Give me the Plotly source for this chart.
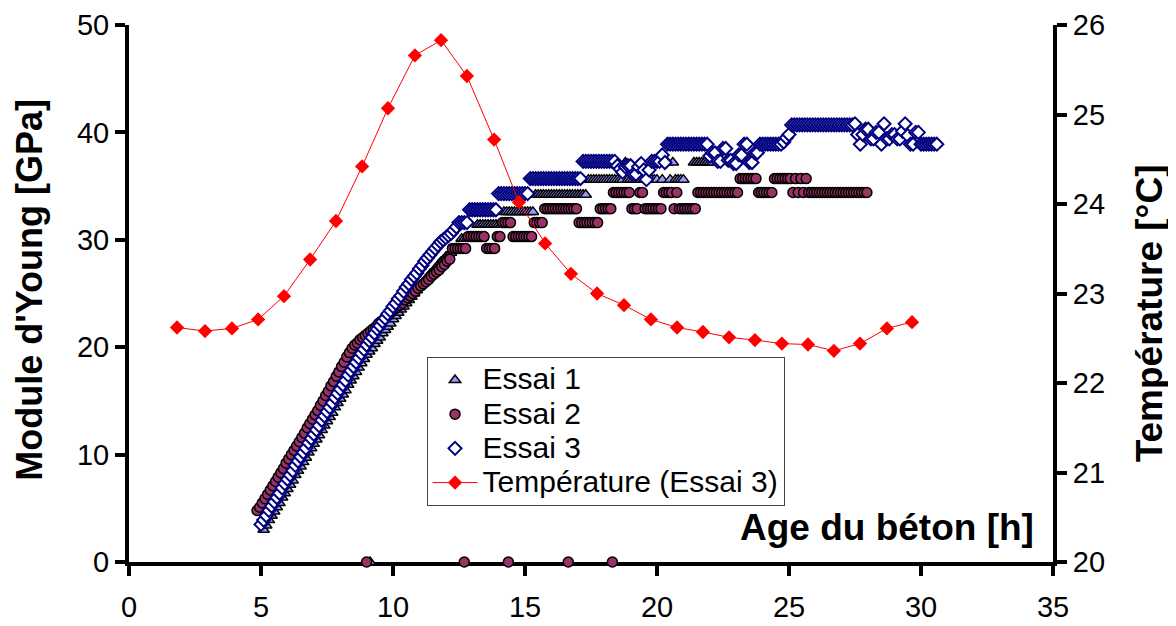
import plotly.graph_objects as go

# ---------------- data ----------------
# Essai 1 (triangles)
ESSAI1_T = [
    5.1, 5.2, 5.3, 5.4, 5.5, 5.6, 5.7, 5.8, 5.9,
    6.0, 6.1, 6.2, 6.3, 6.4, 6.5, 6.6, 6.7, 6.8, 6.9,
    7.0, 7.1, 7.2, 7.3, 7.4, 7.5, 7.6, 7.7, 7.8, 7.9,
    8.0, 8.1, 8.2, 8.3, 8.4, 8.5, 8.6, 8.7, 8.8, 8.9,
    9.0, 9.1, 9.2, 9.3, 9.4, 9.5, 9.6, 9.7, 9.8, 9.9,
    10.0, 10.1, 10.2, 10.3, 10.4, 10.5, 10.6, 10.7, 10.8, 10.9,
    11.0, 11.1, 11.2, 11.3, 11.4, 11.5, 11.6, 11.7, 11.8, 11.9,
    12.0, 12.1, 12.2, 12.3, 12.4, 12.5, 12.6, 12.7, 12.8, 12.9,
    13.0, 13.1, 13.2, 13.3, 13.4, 13.5, 13.6, 13.7, 13.8, 13.9,
    14.0, 14.1, 14.2, 14.3, 14.4, 14.5, 14.6, 14.7, 14.8, 14.9,
    15.0, 15.1, 15.2, 15.3, 15.4, 15.5, 15.6, 15.7, 15.8, 15.9,
    16.0, 16.1, 16.2, 16.3, 16.4, 16.5, 16.6, 16.7, 16.8, 16.9,
    17.0, 17.1, 17.2, 17.3, 17.4, 17.5, 17.6, 17.7, 17.8, 17.9,
    18.0, 18.1, 18.2, 18.3, 18.4, 18.5, 18.6, 18.7, 18.8, 18.9,
    19.0, 19.1, 19.2, 19.3, 19.4, 19.5, 19.6, 19.7, 19.8, 19.9,
    20.0, 20.1, 20.2, 20.3, 20.4, 20.5, 20.6, 20.7, 20.8, 20.9,
    21.0,
    21.4, 21.5, 21.6, 21.7, 21.8, 21.9, 22.0, 22.1,
]
ESSAI1_E = [
    3.0, 3.4, 3.9, 4.3, 4.7, 5.1, 5.5, 6.0, 6.4,
    6.8, 7.2, 7.6, 8.1, 8.5, 8.9, 9.3, 9.7, 10.2, 10.6,
    11.0, 11.4, 11.8, 12.3, 12.7, 13.1, 13.5, 13.9, 14.4, 14.8,
    15.2, 15.6, 16.0, 16.5, 16.9, 17.3, 17.7, 18.1, 18.5, 18.9,
    19.3, 19.6, 19.9, 20.3, 20.6, 20.9, 21.3, 21.6, 21.9, 22.2,
    22.6, 22.9, 23.2, 23.5, 23.8, 24.1, 24.4, 24.7, 25.0, 25.3,
    25.6, 25.9, 26.2, 26.5, 26.8, 27.0, 27.3, 27.6, 27.9, 28.1,
    28.4, 28.6, 28.8, 29.0, 29.2, 29.2, 30.1, 30.1, 30.1, 30.1,
    30.1, 30.1, 31.4, 31.4, 31.4, 31.4, 31.4, 31.4, 31.4, 31.4,
    31.4, 31.4, 32.6, 32.6, 32.6, 32.6, 32.6, 32.6, 32.6, 32.6,
    32.6, 32.6, 32.6, 32.6, 34.2, 34.2, 34.2, 34.2, 34.2, 34.2,
    34.2, 34.2, 34.2, 34.2, 34.2, 34.2, 34.2, 34.2, 34.2, 34.2,
    34.2, 34.2, 34.2, 34.2, 35.6, 35.6, 35.6, 35.6, 35.6, 35.6,
    35.6, 35.6, 35.6, 35.6, 35.6, 35.6, 35.6, 35.6, 37.2, 35.6,
    35.6, 35.6, 35.6, 35.6, 35.6, 35.6, 35.6, 35.6, 35.6, 35.6,
    35.6, 37.2, 35.6, 37.2, 37.2, 35.6, 37.2, 35.6, 35.6, 35.6,
    35.6,
    37.2, 37.2, 37.2, 37.2, 37.2, 37.2, 37.2, 37.2,
]
ESSAI1_ZERO_T = [9.13]
ESSAI1_ZERO_E = [0.0]

# Essai 2 (circles)
ESSAI2_T = [
    4.85, 4.95,
    5.05, 5.15, 5.25, 5.35, 5.45, 5.55, 5.65, 5.75, 5.85, 5.95,
    6.05, 6.15, 6.25, 6.35, 6.45, 6.55, 6.65, 6.75, 6.85, 6.95,
    7.05, 7.15, 7.25, 7.35, 7.45, 7.55, 7.65, 7.75, 7.85, 7.95,
    8.05, 8.15, 8.25, 8.35, 8.45, 8.55, 8.65, 8.75, 8.85, 8.95,
    9.05, 9.15, 9.25, 9.35, 9.45, 9.55, 9.65, 9.75, 9.85, 9.95,
    10.05, 10.15, 10.25, 10.35, 10.45, 10.55, 10.65, 10.75, 10.85, 10.95,
    11.05, 11.15, 11.25, 11.35, 11.45, 11.55, 11.65, 11.75, 11.85, 11.95,
    12.05, 12.15, 12.25, 12.35, 12.45, 12.55, 12.65, 12.75, 12.85, 12.95,
    13.05, 13.15, 13.25, 13.35, 13.45, 13.55, 13.65, 13.75, 13.85, 13.95,
    14.05, 14.15, 14.25, 14.35, 14.45, 14.55, 14.65, 14.75, 14.85, 14.95,
    15.05, 15.15, 15.25, 15.35, 15.45, 15.55, 15.65, 15.75, 15.85, 15.95,
    16.05, 16.15, 16.25, 16.35, 16.45, 16.55, 16.65, 16.75, 16.85, 16.95,
    17.05, 17.15, 17.25, 17.35, 17.45, 17.55, 17.65, 17.75, 17.85, 17.95,
    18.05, 18.15, 18.25, 18.35, 18.45, 18.55, 18.65, 18.75, 18.85, 18.95,
    19.05, 19.15, 19.25, 19.35, 19.45, 19.55, 19.65, 19.75, 19.85, 19.95,
    20.05, 20.15, 20.25, 20.35, 20.45, 20.55, 20.65, 20.75, 20.85, 20.95,
    21.05, 21.15, 21.25, 21.35, 21.45, 21.55, 21.65, 21.75, 21.85, 21.95,
    22.05, 22.15, 22.25, 22.35, 22.45, 22.55, 22.65, 22.75, 22.85, 22.95,
    23.05, 23.15, 23.25, 23.35, 23.45, 23.55, 23.65, 23.75, 23.85, 23.95,
    24.05, 24.15, 24.25, 24.35, 24.45, 24.55, 24.65, 24.75, 24.85, 24.95,
    25.05, 25.15, 25.25, 25.35, 25.45, 25.55, 25.65, 25.75, 25.85, 25.95,
    26.05, 26.15, 26.25, 26.35, 26.45, 26.55, 26.65, 26.75, 26.85, 26.95,
    27.05, 27.15, 27.25, 27.35, 27.45, 27.55, 27.65, 27.75, 27.85, 27.95,
]
ESSAI2_E = [
    4.8, 5.1,
    5.5, 5.9, 6.3, 6.7, 7.1, 7.5, 7.9, 8.3, 8.7, 9.2,
    9.6, 10.0, 10.4, 10.8, 11.2, 11.6, 12.0, 12.5, 12.9, 13.3,
    13.7, 14.1, 14.6, 15.0, 15.5, 15.9, 16.4, 16.8, 17.3, 17.7,
    18.2, 18.6, 19.1, 19.5, 19.9, 20.2, 20.4, 20.7, 20.9, 21.1,
    21.3, 21.5, 21.7, 21.9, 22.2, 22.4, 22.6, 22.8, 23.0, 23.3,
    23.5, 23.7, 23.9, 24.1, 24.4, 24.6, 24.8, 25.0, 25.2, 25.5,
    25.7, 25.9, 26.1, 26.3, 26.6, 26.8, 27.0, 27.2, 27.5, 27.7,
    28.0, 28.2, 29.2, 29.2, 29.2, 29.2, 29.2, 29.2, 30.3, 30.3,
    30.3, 30.3, 30.3, 30.3, 30.3, 29.2, 29.2, 29.2, 29.2, 30.3,
    30.3, 31.6, 31.6, 31.6, 31.6, 30.3, 30.3, 30.3, 30.3, 30.3,
    30.3, 30.3, 30.3, 31.6, 31.6, 31.6, 31.6, 32.9, 32.9, 32.9,
    32.9, 32.9, 32.9, 32.9, 32.9, 32.9, 32.9, 32.9, 32.9, 32.9,
    31.6, 31.6, 31.6, 31.6, 31.6, 31.6, 31.6, 31.6, 32.9, 32.9,
    32.9, 32.9, 32.9, 34.4, 34.4, 34.4, 34.4, 34.4, 34.4, 34.4,
    32.9, 32.9, 32.9, 34.4, 34.4, 32.9, 32.9, 32.9, 32.9, 32.9,
    32.9, 32.9, 34.4, 34.4, 34.4, 34.4, 32.9, 34.4, 32.9, 32.9,
    32.9, 32.9, 32.9, 32.9, 32.9, 34.4, 34.4, 34.4, 34.4, 34.4,
    34.4, 34.4, 34.4, 34.4, 34.4, 34.4, 34.4, 34.4, 34.4, 34.4,
    34.4, 35.7, 35.7, 35.7, 35.7, 35.7, 35.7, 35.7, 34.4, 34.4,
    34.4, 34.4, 34.4, 34.4, 35.7, 35.7, 35.7, 35.7, 35.7, 35.7,
    35.7, 34.4, 35.7, 34.4, 35.7, 34.4, 35.7, 34.4, 34.4, 34.4,
    34.4, 34.4, 34.4, 34.4, 34.4, 34.4, 34.4, 34.4, 34.4, 34.4,
    34.4, 34.4, 34.4, 34.4, 34.4, 34.4, 34.4, 34.4, 34.4, 34.4,
]
ESSAI2_ZERO_T = [9.0, 12.7, 14.37, 16.64, 18.31]
ESSAI2_ZERO_E = [0.0, 0.0, 0.0, 0.0, 0.0]

# Essai 3 (open diamonds)
ESSAI3_T = [
    5.0, 5.1, 5.2, 5.3, 5.4, 5.5, 5.6, 5.7, 5.8, 5.9,
    6.0, 6.1, 6.2, 6.3, 6.4, 6.5, 6.6, 6.7, 6.8, 6.9,
    7.0, 7.1, 7.2, 7.3, 7.4, 7.5, 7.6, 7.7, 7.8, 7.9,
    8.0, 8.1, 8.2, 8.3, 8.4, 8.5, 8.6, 8.7, 8.8, 8.9,
    9.0, 9.1, 9.2, 9.3, 9.4, 9.5, 9.6, 9.7, 9.8, 9.9,
    10.0, 10.1, 10.2, 10.3, 10.4, 10.5, 10.6, 10.7, 10.8, 10.9,
    11.0, 11.1, 11.2, 11.3, 11.4, 11.5, 11.6, 11.7, 11.8, 11.9,
    12.0, 12.1, 12.2, 12.3, 12.4, 12.5, 12.6, 12.7, 12.8, 12.9,
    13.0, 13.1, 13.2, 13.3, 13.4, 13.5, 13.6, 13.7, 13.8, 13.9,
    14.0, 14.1, 14.2, 14.3, 14.4, 14.5, 14.6, 14.7, 14.8, 14.9,
    15.0, 15.1, 15.2, 15.3, 15.4, 15.5, 15.6, 15.7, 15.8, 15.9,
    16.0, 16.1, 16.2, 16.3, 16.4, 16.5, 16.6, 16.7, 16.8, 16.9,
    17.0, 17.1, 17.2, 17.3, 17.4, 17.5, 17.6, 17.7, 17.8, 17.9,
    18.0, 18.1, 18.2, 18.3, 18.4, 18.5, 18.6, 18.7, 18.8, 18.9,
    19.0, 19.1, 19.2, 19.3, 19.4, 19.5, 19.6, 19.7, 19.8, 19.9,
    20.0, 20.1, 20.2, 20.3, 20.4, 20.5, 20.6, 20.7, 20.8, 20.9,
    21.0, 21.1, 21.2, 21.3, 21.4, 21.5, 21.6, 21.7, 21.8, 21.9,
    22.0, 22.1, 22.2, 22.3, 22.4, 22.5, 22.6, 22.7, 22.8, 22.9,
    23.0, 23.1, 23.2, 23.3, 23.4, 23.5, 23.6, 23.7, 23.8, 23.9,
    24.0, 24.1, 24.2, 24.3, 24.4, 24.5, 24.6, 24.7, 24.8, 24.9,
    25.0, 25.1, 25.2, 25.3, 25.4, 25.5, 25.6, 25.7, 25.8, 25.9,
    26.0, 26.1, 26.2, 26.3, 26.4, 26.5, 26.6, 26.7, 26.8, 26.9,
    27.0, 27.1, 27.2, 27.3, 27.4, 27.5, 27.6, 27.7, 27.8, 27.9,
    28.0, 28.1, 28.2, 28.3, 28.4, 28.5, 28.6, 28.7, 28.8, 28.9,
    29.0, 29.1, 29.2, 29.3, 29.4, 29.5, 29.6, 29.7, 29.8, 29.9,
    30.0, 30.1, 30.2, 30.3, 30.4, 30.5, 30.6,
]
ESSAI3_E = [
    3.5, 3.9, 4.3, 4.8, 5.2, 5.6, 6.0, 6.4, 6.9, 7.3,
    7.7, 8.1, 8.5, 9.0, 9.4, 9.8, 10.2, 10.6, 11.1, 11.5,
    11.9, 12.3, 12.7, 13.2, 13.6, 14.0, 14.4, 14.8, 15.3, 15.7,
    16.1, 16.5, 16.9, 17.4, 17.8, 18.2, 18.6, 19.0, 19.4, 19.8,
    20.2, 20.6, 20.9, 21.3, 21.7, 22.0, 22.4, 22.7, 23.1, 23.4,
    23.8, 24.1, 24.5, 24.8, 25.2, 25.6, 25.9, 26.3, 26.6, 26.9,
    27.3, 27.6, 28.0, 28.3, 28.6, 28.9, 29.2, 29.5, 29.8, 30.0,
    30.2, 30.4, 30.6, 30.9, 31.2, 31.6, 31.6, 31.6, 31.6, 32.8,
    32.8, 32.8, 32.8, 32.8, 32.8, 32.8, 32.8, 32.8, 32.8, 32.8,
    34.3, 34.3, 34.3, 34.3, 34.3, 34.3, 34.3, 34.3, 34.3, 34.3,
    34.3, 34.3, 35.7, 35.7, 35.7, 35.7, 35.7, 35.7, 35.7, 35.7,
    35.7, 35.7, 35.7, 35.7, 35.7, 35.7, 35.7, 35.7, 35.7, 35.7,
    35.7, 35.7, 37.3, 37.3, 37.3, 37.3, 37.3, 37.3, 37.3, 37.3,
    37.3, 37.3, 37.3, 37.3, 37.3, 36.9, 36.6, 36.3, 36.8, 36.9,
    36.9, 36.1, 36.1, 36.8, 37.1, 36.5, 35.6, 36.5, 37.3, 37.3,
    37.3, 37.3, 37.9, 37.2, 38.9, 38.9, 38.9, 38.9, 38.9, 38.9,
    38.9, 38.9, 38.9, 38.9, 38.9, 38.9, 38.9, 38.9, 38.9, 38.9,
    37.8, 38.1, 38.1, 37.3, 37.3, 38.5, 38.5, 37.4, 37.4, 37.1,
    37.1, 37.9, 37.9, 38.9, 38.9, 37.2, 37.2, 38.1, 38.1, 38.9,
    38.9, 38.9, 38.9, 38.9, 38.9, 38.9, 38.9, 38.9, 39.1, 39.5,
    39.8, 40.7, 40.7, 40.7, 40.7, 40.7, 40.7, 40.7, 40.7, 40.7,
    40.7, 40.7, 40.7, 40.7, 40.7, 40.7, 40.7, 40.7, 40.7, 40.7,
    40.7, 40.7, 40.7, 40.7, 40.7, 40.8, 39.8, 38.9, 39.8, 40.3,
    40.3, 39.4, 39.4, 40.0, 40.0, 38.9, 40.8, 39.4, 39.4, 39.8,
    39.8, 39.4, 39.4, 40.1, 40.8, 39.7, 38.9, 38.9, 40.0, 40.0,
    38.9, 38.9, 38.9, 38.9, 38.9, 38.9, 38.9,
]

# Temperature (Essai 3), right axis
TEMP_T = [1.82, 2.88, 3.9, 4.89, 5.87, 6.86, 7.84, 8.83, 9.81, 10.83,
          11.82, 12.8, 13.83, 14.77, 15.76, 16.74, 17.73, 18.75, 19.77, 20.76,
          21.74, 22.73, 23.71, 24.73, 25.72, 26.7, 27.69, 28.71, 29.66]
TEMP_C = [22.62, 22.58, 22.61, 22.71, 22.97, 23.38, 23.81, 24.42, 25.07, 25.66,
          25.83, 25.43, 24.72, 24.02, 23.56, 23.22, 23.0, 22.87, 22.71, 22.62,
          22.57, 22.51, 22.48, 22.44, 22.43, 22.36, 22.44, 22.61, 22.68]

X_TICKS = [0, 5, 10, 15, 20, 25, 30, 35]
Y_TICKS = [0, 10, 20, 30, 40, 50]
Y2_TICKS = [20, 21, 22, 23, 24, 25, 26]

FONT = "Liberation Sans, Arial, sans-serif"
LEG_SPAN = '<span style="font-size:30px">{}</span>'

# ---------------- figure ----------------
fig = go.Figure()

fig.add_trace(go.Scatter(
    x=ESSAI1_T + ESSAI1_ZERO_T, y=ESSAI1_E + ESSAI1_ZERO_E,
    mode="markers", name=LEG_SPAN.format("Essai 1"), cliponaxis=False,
    marker=dict(symbol="triangle-up", size=10, color="#9999FF",
                line=dict(color="black", width=1.5)),
))
fig.add_trace(go.Scatter(
    x=ESSAI2_T + ESSAI2_ZERO_T, y=ESSAI2_E + ESSAI2_ZERO_E,
    mode="markers", name=LEG_SPAN.format("Essai 2"), cliponaxis=False,
    marker=dict(symbol="circle", size=10, color="#993366",
                line=dict(color="black", width=1.5)),
))
fig.add_trace(go.Scatter(
    x=ESSAI3_T, y=ESSAI3_E,
    mode="markers", name=LEG_SPAN.format("Essai 3"), cliponaxis=False,
    marker=dict(symbol="diamond", size=10, color="white",
                line=dict(color="#000080", width=2)),
))
fig.add_trace(go.Scatter(
    x=TEMP_T, y=TEMP_C, yaxis="y2",
    mode="lines+markers", name=LEG_SPAN.format("Température (Essai 3)"),
    line=dict(color="#FF0000", width=1),
    marker=dict(symbol="diamond", size=11, color="#FF0000"),
))

axis_style = dict(
    showline=True, linecolor="black", linewidth=4,
    ticks="outside", ticklen=10, tickwidth=4, tickcolor="black",
    showgrid=False, zeroline=False, ticklabeloverflow="allow",
    automargin=False,
    tickfont=dict(family=FONT, size=29, color="black"),
)

fig.update_layout(
    width=1168, height=618,
    margin=dict(l=121, r=123, t=17, b=64, pad=0, autoexpand=False),
    paper_bgcolor="white", plot_bgcolor="white",
    font=dict(family=FONT, color="black"),
    xaxis=dict(range=[0, 35], tickvals=X_TICKS, layer="below traces",
               ticklabelstandoff=6, **axis_style),
    yaxis=dict(range=[0, 50], tickvals=Y_TICKS, layer="below traces", **axis_style),
    yaxis2=dict(range=[20, 26], tickvals=Y2_TICKS, overlaying="y", side="right",
                layer="below traces", **axis_style),
    showlegend=True,
    legend=dict(
        x=0.322, y=0.382, xanchor="left", yanchor="top",
        bgcolor="white", bordercolor="#444444", borderwidth=1,
        font=dict(family=FONT, size=24, color="black"),
        itemwidth=45, traceorder="normal",
    ),
    annotations=[
        dict(text="Module d'Young [GPa]", xref="paper", yref="paper",
             x=-0.1071, y=0.507, xanchor="center", yanchor="middle",
             textangle=-90, showarrow=False,
             font=dict(family=FONT, size=36, color="black", weight="bold")),
        dict(text="Température [°C]", xref="paper", yref="paper",
             x=1.1039, y=0.463, xanchor="center", yanchor="middle",
             textangle=-90, showarrow=False,
             font=dict(family=FONT, size=37, color="black", weight="bold")),
        dict(text="Age du béton [h]", xref="paper", yref="paper",
             x=0.820, y=0.065, xanchor="center", yanchor="middle",
             showarrow=False,
             font=dict(family=FONT, size=37, color="black", weight="bold")),
    ],
)

fig.write_html("out.html")
